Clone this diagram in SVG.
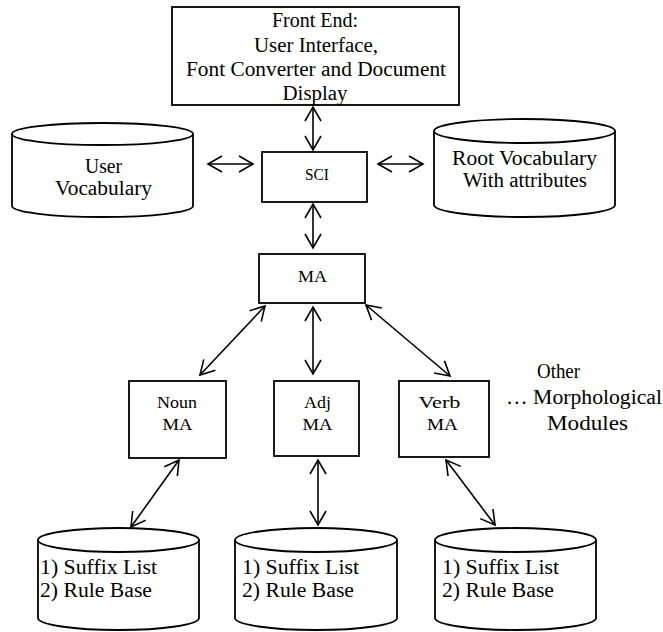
<svg xmlns="http://www.w3.org/2000/svg" width="663" height="632" viewBox="0 0 663 632">
<style>
.b{fill:#fff;stroke:#000;stroke-width:1.8}
.t{font-size:20px;fill:#000}
.s{font-size:17px;fill:#000}
.m{text-anchor:middle}
.l{fill:none;stroke:#000;stroke-width:1.6}
</style>
<defs>
<marker id="ah" viewBox="0 0 17 18" markerWidth="17" markerHeight="18" refX="15" refY="9" orient="auto-start-reverse" markerUnits="userSpaceOnUse">
<path d="M1,1 L15,9 L1,17" fill="none" stroke="#000" stroke-width="1.6"/>
</marker>
</defs>
<rect width="663" height="632" fill="#fff"/>
<g id="connectors">
<line class="l" x1="313" y1="107" x2="313" y2="150" marker-start="url(#ah)" marker-end="url(#ah)"/>
<line class="l" x1="208" y1="164" x2="253" y2="164" marker-start="url(#ah)" marker-end="url(#ah)"/>
<line class="l" x1="378" y1="164" x2="423" y2="164" marker-start="url(#ah)" marker-end="url(#ah)"/>
<line class="l" x1="313" y1="204" x2="313" y2="248" marker-start="url(#ah)" marker-end="url(#ah)"/>
<line class="l" x1="265" y1="306" x2="200" y2="375" marker-start="url(#ah)" marker-end="url(#ah)"/>
<line class="l" x1="313" y1="307" x2="313" y2="374" marker-start="url(#ah)" marker-end="url(#ah)"/>
<line class="l" x1="366" y1="305" x2="450" y2="376" marker-start="url(#ah)" marker-end="url(#ah)"/>
<line class="l" x1="179" y1="460" x2="131" y2="527" marker-start="url(#ah)" marker-end="url(#ah)"/>
<line class="l" x1="318" y1="460" x2="318" y2="525" marker-start="url(#ah)" marker-end="url(#ah)"/>
<line class="l" x1="446" y1="460" x2="495" y2="525" marker-start="url(#ah)" marker-end="url(#ah)"/>
</g>
<g font-family="Liberation Serif, Times New Roman, DejaVu Serif, serif">
<g id="frontend">
<rect class="b" x="172" y="7" width="287" height="98"/>
<text class="t m" x="315" y="27" textLength="86" lengthAdjust="spacingAndGlyphs">Front End:</text>
<text class="t m" x="316" y="52" textLength="124" lengthAdjust="spacingAndGlyphs">User Interface,</text>
<text class="t m" x="316" y="76" textLength="260" lengthAdjust="spacingAndGlyphs">Font Converter and Document</text>
<text class="t m" x="315" y="100" textLength="65" lengthAdjust="spacingAndGlyphs">Display</text>
</g>
<g id="sci">
<rect class="b" x="262" y="152" width="105" height="50"/>
<text class="s m" x="317" y="180" textLength="24" lengthAdjust="spacingAndGlyphs">SCI</text>
</g>
<g id="uservocab">
<path class="b" d="M12,134 L12,206 A90.5,11 0 0 0 193,206 L193,134"/>
<ellipse class="b" cx="102.5" cy="134" rx="90.5" ry="11"/>
<text class="t m" x="103.5" y="173" textLength="37" lengthAdjust="spacingAndGlyphs">User</text>
<text class="t m" x="103.5" y="195" textLength="97" lengthAdjust="spacingAndGlyphs">Vocabulary</text>
</g>
<g id="rootvocab">
<path class="b" d="M434,131 L434,205 A90.5,12 0 0 0 615,205 L615,131"/>
<ellipse class="b" cx="524.5" cy="131" rx="90.5" ry="12"/>
<text class="t m" x="524.5" y="165" textLength="145" lengthAdjust="spacingAndGlyphs">Root Vocabulary</text>
<text class="t m" x="525" y="187" textLength="124" lengthAdjust="spacingAndGlyphs">With attributes</text>
</g>
<g id="ma">
<rect class="b" x="259" y="254" width="106" height="49"/>
<text class="s m" x="312.5" y="282" textLength="29" lengthAdjust="spacingAndGlyphs">MA</text>
</g>
<g id="noun">
<rect class="b" x="129" y="381" width="97" height="77"/>
<text class="s m" x="177" y="408" textLength="40" lengthAdjust="spacingAndGlyphs">Noun</text>
<text class="s m" x="177.5" y="430" textLength="30" lengthAdjust="spacingAndGlyphs">MA</text>
</g>
<g id="adj">
<rect class="b" x="274" y="381" width="85" height="75"/>
<text class="s m" x="317.5" y="408" textLength="27" lengthAdjust="spacingAndGlyphs">Adj</text>
<text class="s m" x="317.5" y="430" textLength="30" lengthAdjust="spacingAndGlyphs">MA</text>
</g>
<g id="verb">
<rect class="b" x="399" y="381" width="90" height="76"/>
<text class="s m" x="439.5" y="408" textLength="42" lengthAdjust="spacingAndGlyphs">Verb</text>
<text class="s m" x="442.5" y="430" textLength="31" lengthAdjust="spacingAndGlyphs">MA</text>
</g>
<g id="other">
<text class="t" x="537" y="378" textLength="43" lengthAdjust="spacingAndGlyphs">Other</text>
<text class="t" x="506" y="404" textLength="156" lengthAdjust="spacingAndGlyphs">… Morphological</text>
<text class="t" x="547" y="430" textLength="81" lengthAdjust="spacingAndGlyphs">Modules</text>
</g>
<g id="db1">
<path class="b" d="M38,540 L38,618 A80.5,12 0 0 0 199,618 L199,540"/>
<ellipse class="b" cx="118.5" cy="540" rx="80.5" ry="12"/>
<text class="t" x="40" y="574" textLength="117" lengthAdjust="spacingAndGlyphs">1) Suffix List</text>
<text class="t" x="40" y="597" textLength="112" lengthAdjust="spacingAndGlyphs">2) Rule Base</text>
</g>
<g id="db2">
<path class="b" d="M235,540 L235,618 A81,12 0 0 0 397,618 L397,540"/>
<ellipse class="b" cx="316" cy="540" rx="81" ry="12"/>
<text class="t" x="242" y="574" textLength="117" lengthAdjust="spacingAndGlyphs">1) Suffix List</text>
<text class="t" x="242" y="597" textLength="112" lengthAdjust="spacingAndGlyphs">2) Rule Base</text>
</g>
<g id="db3">
<path class="b" d="M435,540 L435,618 A80.5,12 0 0 0 596,618 L596,540"/>
<ellipse class="b" cx="515.5" cy="540" rx="80.5" ry="12"/>
<text class="t" x="442" y="574" textLength="117" lengthAdjust="spacingAndGlyphs">1) Suffix List</text>
<text class="t" x="442" y="597" textLength="112" lengthAdjust="spacingAndGlyphs">2) Rule Base</text>
</g>
</g>
</svg>
